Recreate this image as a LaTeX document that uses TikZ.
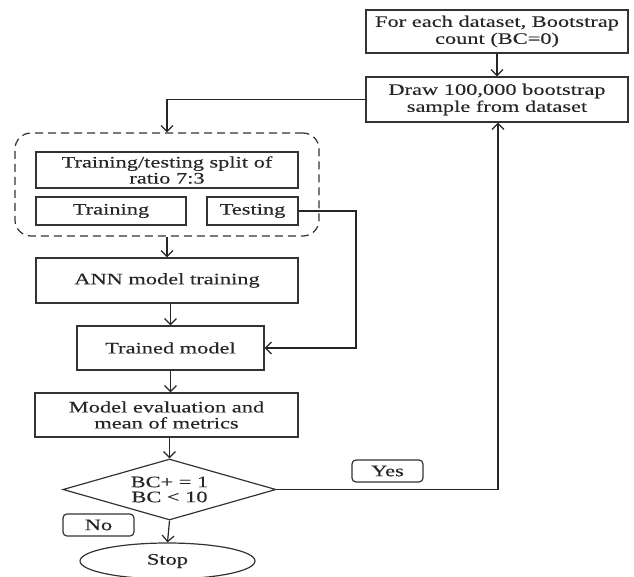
\documentclass[tikz,border=0pt]{standalone}
\usepackage{fontspec}
\setmainfont[FakeStretch=1.4,FakeBold=0.2]{Liberation Serif}
\usetikzlibrary{arrows.meta,shapes.geometric,calc}
\begin{document}
\begin{tikzpicture}[x=1pt,y=-1pt,
  line width=1.2pt,
  every node/.style={text=black!85, font=\fontsize{16}{17}\selectfont},
  box/.style={draw=black!80, rectangle, inner sep=0pt, align=center},
  tag/.style={draw=black!80, rectangle, rounded corners=4pt, inner sep=0pt, minimum width=71pt, minimum height=22pt},
  arr/.style={draw=black!85, -{Straight Barb[length=6pt,width=12pt,line width=1.2pt]}},
  conn/.style={draw=black!85}
]
\useasboundingbox (0,0) rectangle (634,577);

% nodes
\node[box, minimum width=262pt, minimum height=43pt] (b1) at (497,31.5) {For each dataset, Bootstrap\\count (BC=0)};
\node[box, minimum width=262pt, minimum height=45pt] (b2) at (497,99.5) {Draw 100,000 bootstrap\\sample from dataset};

\node[draw=black!80, dashed, dash pattern=on 8pt off 5pt, rounded corners=16pt, line width=1.2pt,
      minimum width=304pt, minimum height=103pt, inner sep=0pt] (dash) at (167,184.5) {};
\node[box, minimum width=262pt, minimum height=36pt, font=\fontsize{16}{16}\selectfont] (split) at (167,170) {Training/testing split of\\ratio 7:3};
\node[box, minimum width=150pt, minimum height=28pt] (train) at (111,211) {Training};
\node[box, minimum width=91pt, minimum height=28pt] (test) at (252.5,211) {Testing};

\node[box, minimum width=262pt, minimum height=45pt] (ann) at (167,280.5) {ANN model training};
\node[box, minimum width=187pt, minimum height=44pt] (tm) at (170.5,348) {Trained model};
\node[box, minimum width=263pt, minimum height=44pt, font=\fontsize{16}{16}\selectfont] (ev) at (166.5,415) {Model evaluation and\\mean of metrics};

\node[draw=black!80, diamond, inner sep=0pt, minimum width=213pt, minimum height=61pt] (dec) at (169.5,489.5) {};
\node[align=center, font=\fontsize{16}{15}\selectfont] (dectext) at (dec.center) {BC+ = 1\\BC < 10};

\node[tag] (yes) at (387.5,471) {Yes};
\node[tag] (no) at (98.5,525) {No};

\node[draw=black!80, ellipse, inner sep=0pt, minimum width=175pt, minimum height=36pt] (stop) at (167.5,561) {Stop};

\coordinate (tr) at (356,211);
\coordinate (yr) at (498,489.5);

% connectors
\draw[arr] (b1.south) -- (b2.north);
\draw[arr] (b2.west) -| (dash.north);
\draw[arr] (dash.south) -- (ann.north);
\draw[arr] (ann.south -| tm.north) -- (tm.north);
\draw[arr] (tm.south) -- (tm.south |- ev.north);
\draw[arr] (ev.south -| dec.north) -- (dec.north);
\draw[arr] (dec.south) -- (stop.north);
\draw[arr] (test.east) -- (tr) |- (tm.east);
\draw[arr] (dec.east) -- (yr) -- (b2.south -| yr);
\end{tikzpicture}
\end{document}
